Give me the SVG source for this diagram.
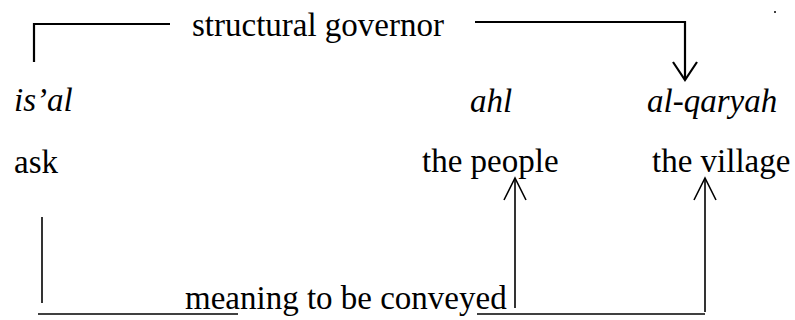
<svg xmlns="http://www.w3.org/2000/svg" width="795" height="320" viewBox="0 0 795 320">
<defs>
<style>
text{font-family:"Liberation Serif","Times New Roman",serif;font-size:33px;fill:#000}
.it{font-style:italic}
.ln{fill:none;stroke:#000;stroke-width:2.2}
.ln2{fill:none;stroke:#000;stroke-width:1.6}
</style>
</defs>
<rect width="795" height="320" fill="#fff"/>
<g id="connectors">
<path class="ln" d="M34,62 L34,24 L170,24"/>
<path class="ln" d="M475,22 L685,22 L685,80"/>
<path class="ln" d="M673,62 L685,80 L697,62"/>
<path class="ln2" d="M42,217 L42,303"/>
<path class="ln2" d="M38,314 L238,314"/>
<path class="ln2" d="M477,314 L705,314"/>
<path class="ln2" d="M515,308 L515,178"/>
<path class="ln2" d="M504,200 L515,178 L526,200"/>
<path class="ln2" d="M705,312 L705,178"/>
<path class="ln2" d="M694,200 L705,178 L716,200"/>
</g>
<g id="label-governor"><text x="192" y="36">structural governor</text></g>
<g id="node-isal"><text class="it" x="14" y="111">is’al</text></g>
<g id="node-ahl"><text class="it" x="470" y="112">ahl</text></g>
<g id="node-alqaryah"><text class="it" x="647" y="112">al-qaryah</text></g>
<g id="node-ask"><text x="14" y="173">ask</text></g>
<g id="node-people"><text x="422" y="172">the people</text></g>
<g id="node-village"><text x="652" y="172">the village</text></g>
<g id="label-meaning"><text x="185" y="309">meaning to be conveyed</text></g>
<circle cx="775" cy="12" r="1" fill="#000"/>
</svg>
